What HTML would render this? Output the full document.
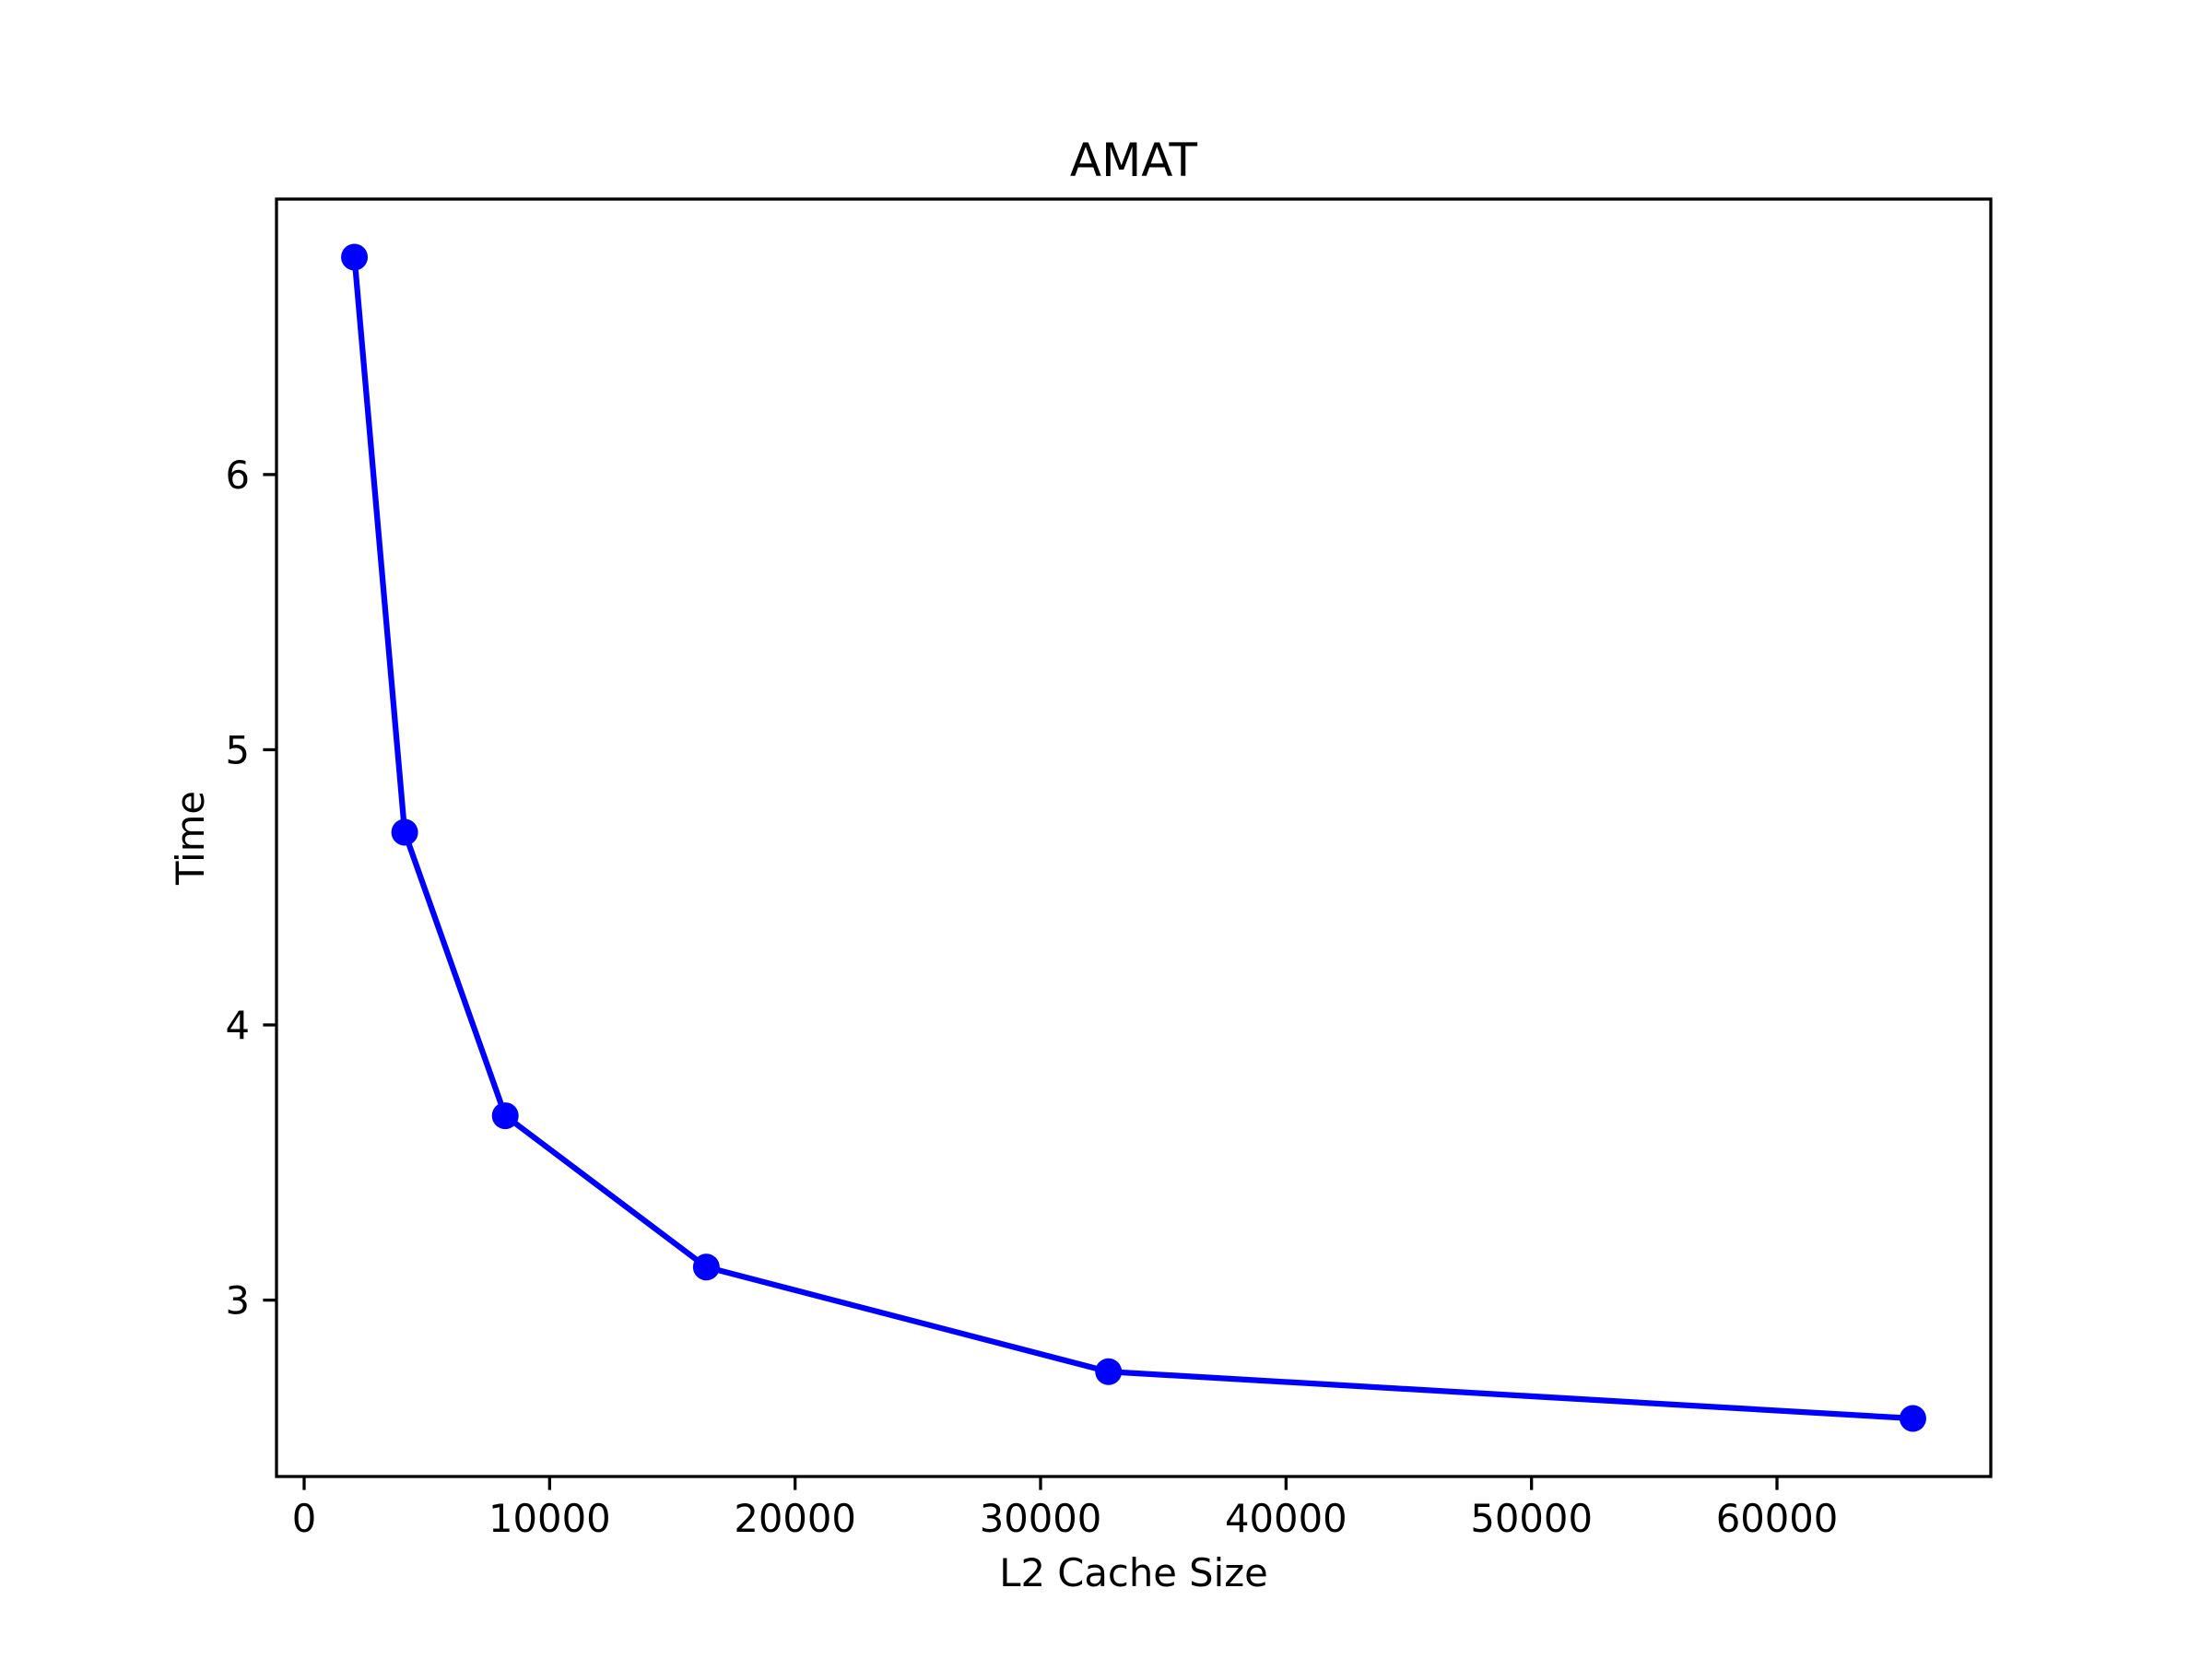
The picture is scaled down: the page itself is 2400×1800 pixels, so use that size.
<!DOCTYPE html>
<html><head><meta charset="utf-8"><style>html,body{margin:0;padding:0;background:#fff}svg{display:block}</style></head>
<body>
<svg id="chart" width="2400" height="1800" xmlns="http://www.w3.org/2000/svg" font-family="'DejaVu Sans','Liberation Sans',sans-serif">
<rect width="2400" height="1800" fill="#fff"/>
<g id="plot"></g>
</svg>
<script>
const xValues = [2048, 4096, 8192, 16384, 32768, 65536];
const yValues = [6.79, 4.70, 3.67, 3.12, 2.74, 2.57];
const xTicks = [0, 10000, 20000, 30000, 40000, 50000, 60000];
const yTicks = [3, 4, 5, 6];

const L=300,R=2160,T=216,B=1602;
const xmin0=Math.min(...xValues),xmax0=Math.max(...xValues);
const ymin0=Math.min(...yValues),ymax0=Math.max(...yValues);
const xpad=(xmax0-xmin0)*0.05,ypad=(ymax0-ymin0)*0.05;
const xmin=xmin0-xpad,xmax=xmax0+xpad,ymin=ymin0-ypad,ymax=ymax0+ypad;
const sx=v=>L+(v-xmin)/(xmax-xmin)*(R-L);
const sy=v=>B-(v-ymin)/(ymax-ymin)*(B-T);
const NS='http://www.w3.org/2000/svg';
const g=document.getElementById('plot');
function mk(tag,attrs,parent){const e=document.createElementNS(NS,tag);for(const k in attrs)e.setAttribute(k,attrs[k]);(parent||g).appendChild(e);return e;}

xTicks.forEach(t=>{
  const x=sx(t);
  const l=mk('line',{x1:x,y1:B,x2:x,y2:B+14.6,stroke:'#000','stroke-width':3.3});
  
  
  const tx=mk('text',{x:x,y:B+60,'font-size':41.7,'text-anchor':'middle',fill:'#000'});
  tx.textContent=t;
  
  
});
yTicks.forEach(t=>{
  const y=sy(t);
  const l=mk('line',{x1:L-14.6,y1:y,x2:L,y2:y,stroke:'#000','stroke-width':3.3});
  
  
  const tx=mk('text',{x:L-29,y:y+15,'font-size':41.7,'text-anchor':'end',fill:'#000'});
  tx.textContent=t;
  
  
});

const pts=xValues.map((v,i)=>sx(v)+','+sy(yValues[i])).join(' ');
const line=mk('polyline',{points:pts,fill:'none',stroke:'#0000ff','stroke-width':6.25,'stroke-linejoin':'round','stroke-linecap':'square'});


xValues.forEach((v,i)=>{
  const c=mk('circle',{cx:sx(v),cy:sy(yValues[i]),r:14.5,fill:'#0000ff'});
  
  
});

const frame=mk('rect',{x:L,y:T,width:R-L,height:B-T,fill:'none',stroke:'#000','stroke-width':3.3});



const title=mk('text',{x:(L+R)/2,y:191,'font-size':50,'text-anchor':'middle',fill:'#000'});
title.textContent='AMAT';


const xl=mk('text',{x:(L+R)/2,y:1721,'font-size':41.7,'text-anchor':'middle',fill:'#000'});
xl.textContent='L2 Cache Size';


const yl=mk('text',{x:0,y:0,'font-size':41.7,'text-anchor':'middle',fill:'#000',transform:'translate(221,'+((T+B)/2)+') rotate(-90)'});
yl.textContent='Time';


</script>
</body></html>
